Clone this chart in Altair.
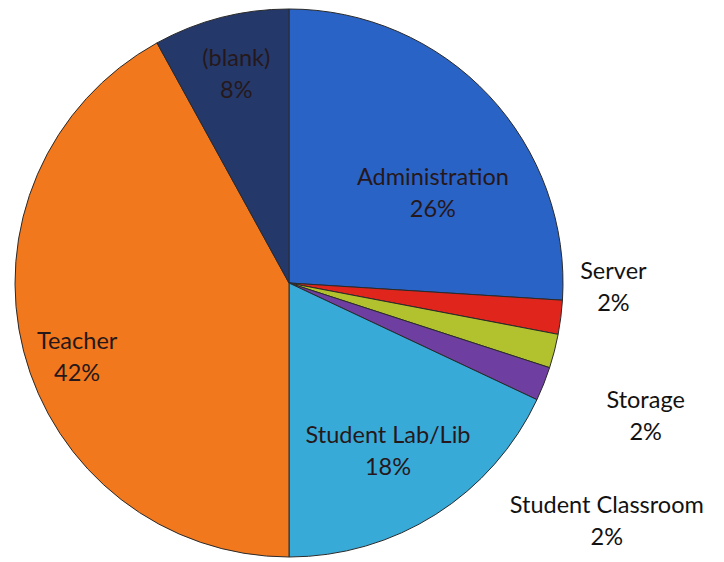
import altair as alt
import pandas as pd

categories = ["Administration", "Server", "Storage", "Student Classroom",
              "Student Lab/Lib", "Teacher", "(blank)"]
values = [26, 2, 2, 2, 18, 42, 8]
colors = ["#2a63c6", "#e0261c", "#b2c22e", "#6e3fa0", "#38aad8", "#f2781e", "#24386a"]

df = pd.DataFrame({"category": categories, "value": values,
                   "idx": list(range(len(categories)))})

CX, CY, R = 281, 275, 274
R_IN, R_OUT = 196, 330
# per-label nudges (pixels) to mimic the original label layout
nudge = {
    "Administration": (1, 29),
    "Server": (-3, -52),
    "Storage": (37, 36),
    "Student Classroom": (11, 102),
    "Student Lab/Lib": (-6, -12),
    "Teacher": (-22, 10),
    "(blank)": (-4, -34),
}

base = alt.Chart(df)

pie = base.mark_arc(radius=R, stroke="#2a2a2a", strokeWidth=1).encode(
    x=alt.value(CX), y=alt.value(CY),
    theta=alt.Theta("value:Q", stack=True),
    order=alt.Order("idx:Q"),
    color=alt.Color("category:N", scale=alt.Scale(domain=categories, range=colors), legend=None),
)

lab = base.transform_joinaggregate(total="sum(value)").transform_window(
    cum="sum(value)", sort=[alt.SortField("idx")], frame=[None, 0]
).transform_calculate(
    mid="2*PI*(datum.cum - datum.value/2)/datum.total",
    rr=f"datum.value >= 5 ? {R_IN} : {R_OUT}",
).transform_calculate(
    lx=f"{CX} + datum.rr*sin(datum.mid)",
    ly=f"{CY} - datum.rr*cos(datum.mid)",
    label="datum.category + '\\n' + datum.value + '%'",
)

layers = [pie]
for cat in categories:
    dx, dy = nudge[cat]
    inside = cat not in ("Server", "Storage", "Student Classroom")
    layers.append(
        lab.transform_filter(alt.datum.category == cat).mark_text(
            font="Lato", fontSize=23.5, lineBreak="\n", lineHeight=32,
            align="center", baseline="middle", dx=dx, dy=dy,
            color="#26181a" if inside else "#121212",
        ).encode(
            x=alt.X("lx:Q", scale=None, axis=None),
            y=alt.Y("ly:Q", scale=None, axis=None),
            text="label:N",
        )
    )

chart = alt.layer(*layers).properties(
    width=708, height=554, autosize=alt.AutoSizeParams(type="none"), padding=0,
    background="white",
).configure_view(stroke=None)

chart.save("out.html", embed_options={"renderer": "svg", "actions": False})
